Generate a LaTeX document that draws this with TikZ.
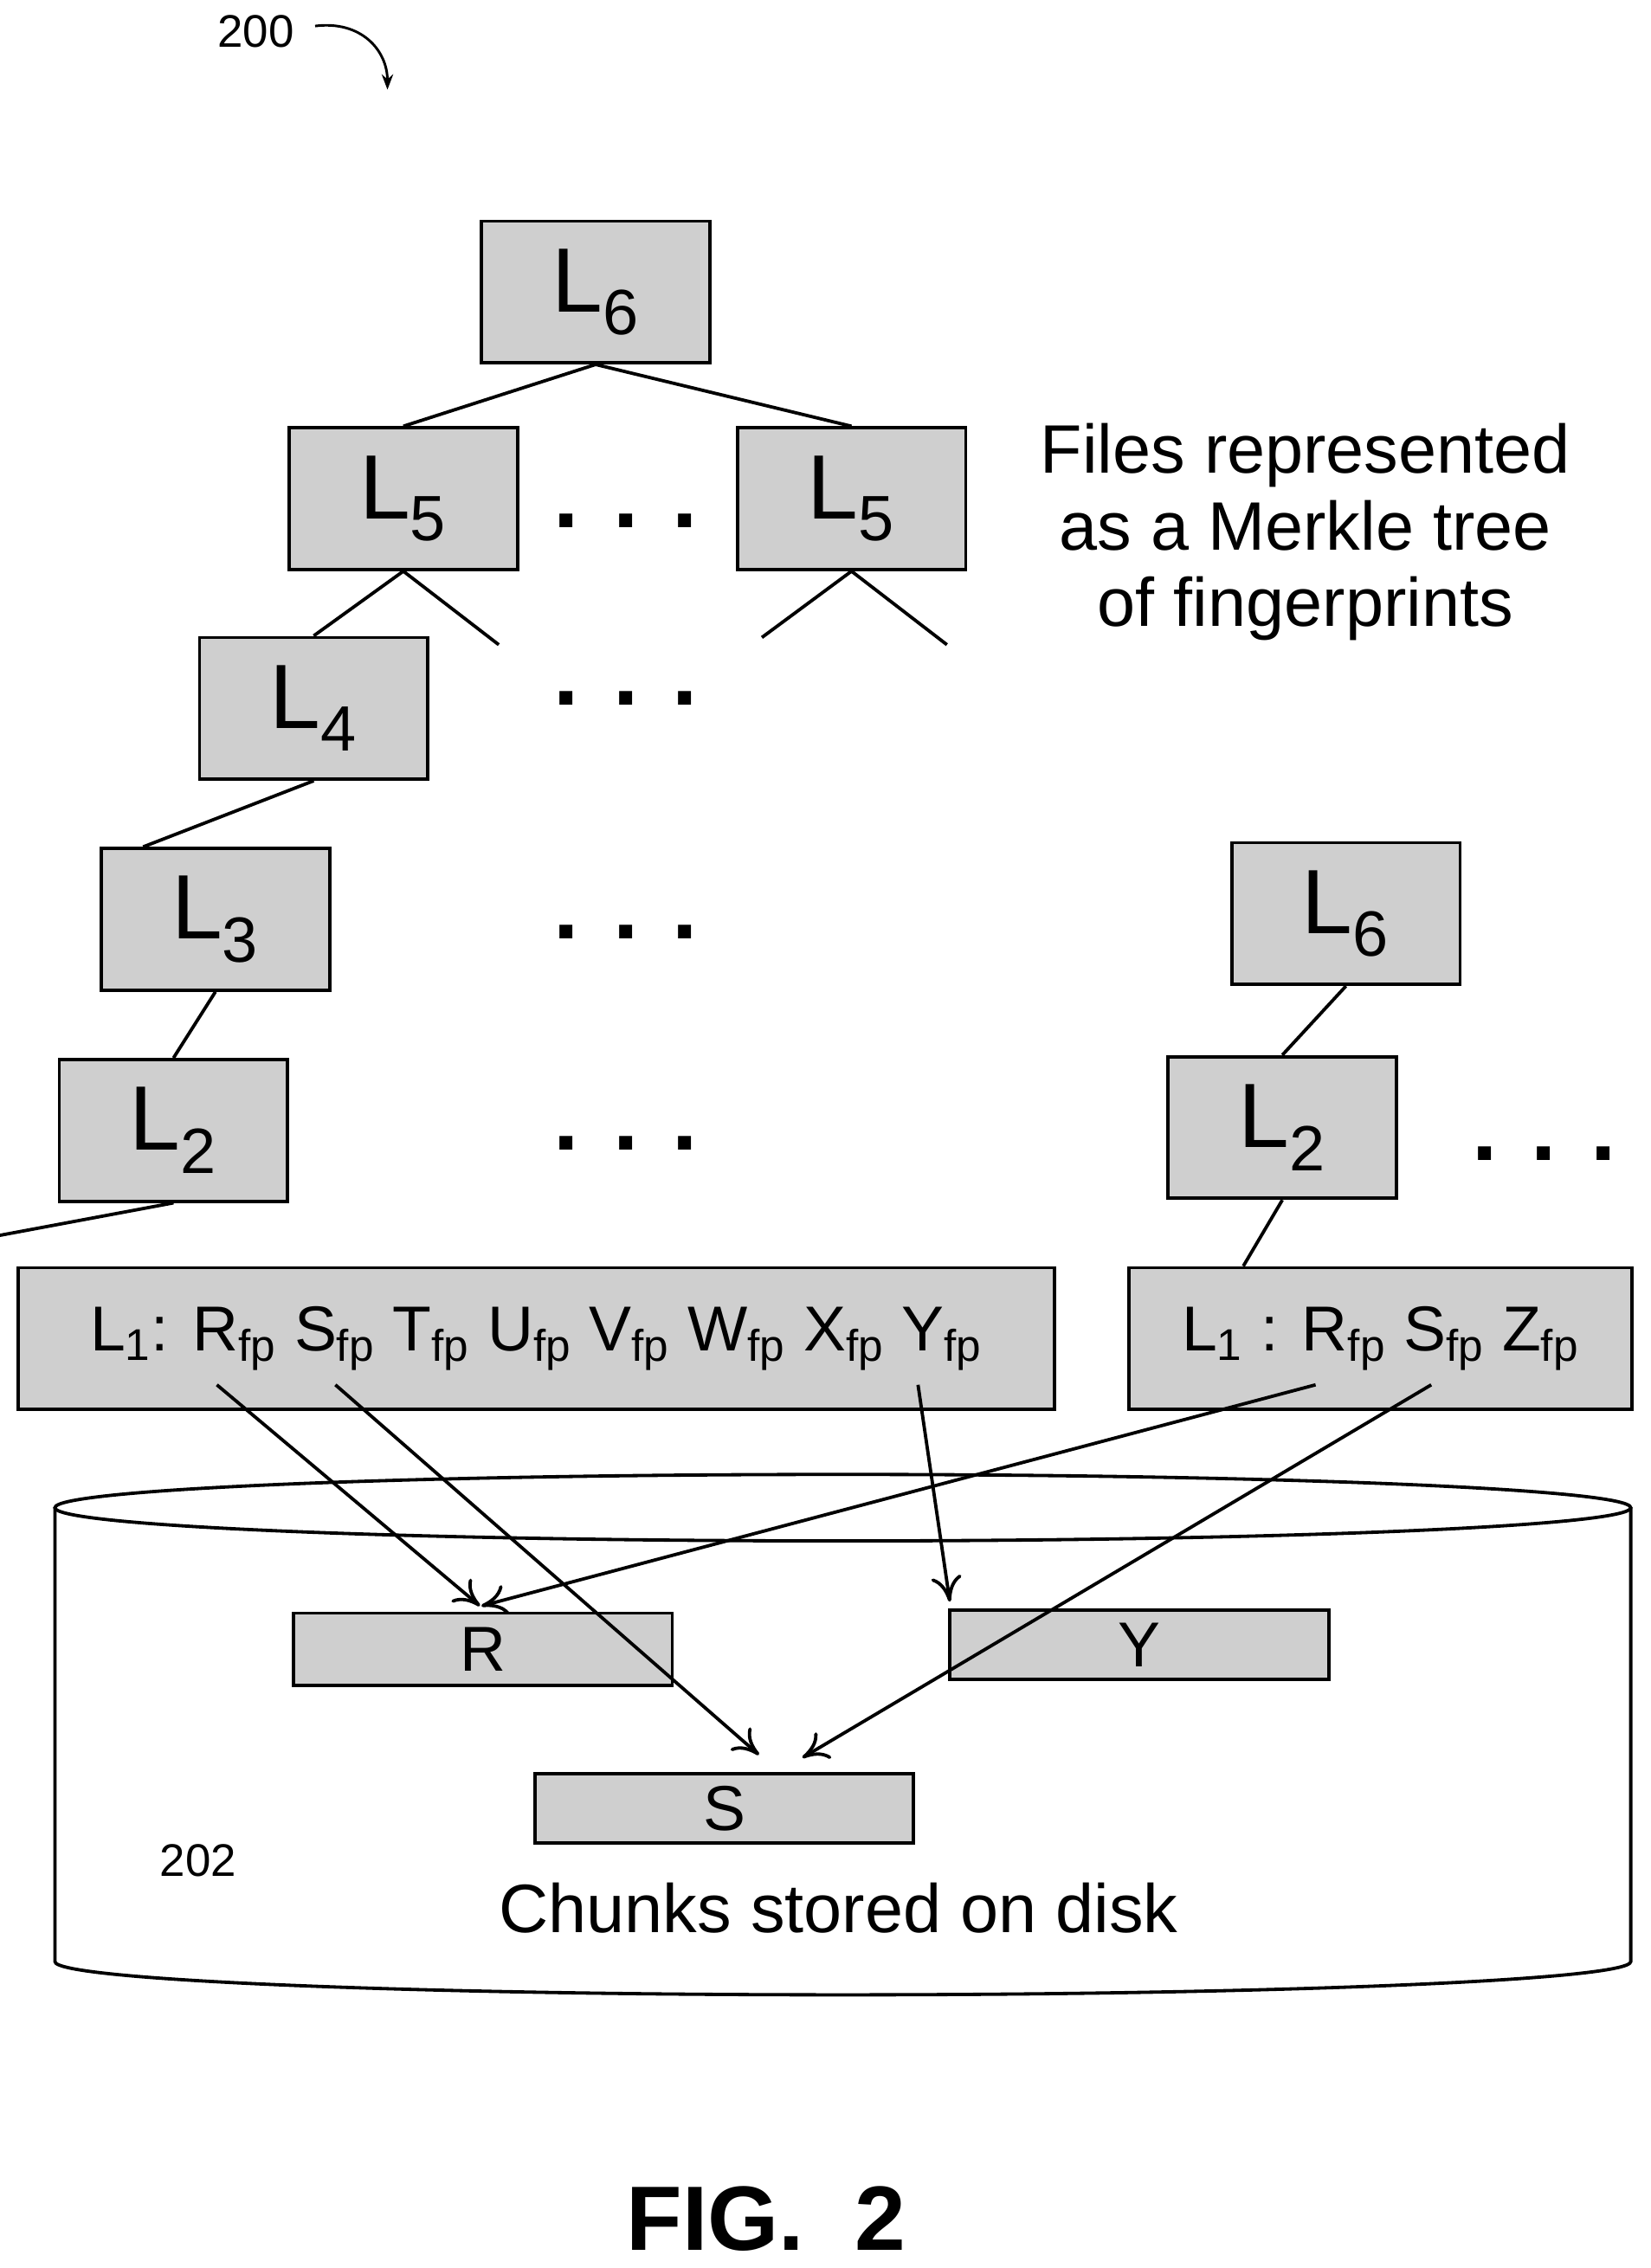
\documentclass[tikz,border=0pt]{standalone}
\usepackage{fontspec}
\setmainfont{Liberation Sans}
\usetikzlibrary{arrows.meta}
\newcommand{\fpx}[1]{#1\textsubscript{fp}}
\begin{document}
\begin{tikzpicture}[x={(0.02cm,0)},y={(0,-0.02cm)},
  box/.style={draw,line width=1.3pt,fill=gray!38,inner sep=0pt},
  ln/.style={line width=1.3pt},
  arr/.style={line width=1.3pt,-{To[length=10pt,width=12pt,line width=1.3pt]}},
  big/.style={font=\fontsize{36}{40}\selectfont},
  mid/.style={font=\fontsize{25}{28}\selectfont},
  txt/.style={font=\fontsize{27}{32}\selectfont}]
\useasboundingbox (0,0) rectangle (1142,1569);
% boxes
\node[box,minimum width=158*0.02cm,minimum height=98*0.02cm,big] (l6) at (412,202) {L\textsubscript{6}};
\node[box,minimum width=158*0.02cm,minimum height=98*0.02cm,big] (l5a) at (279,345) {L\textsubscript{5}};
\node[box,minimum width=158*0.02cm,minimum height=98*0.02cm,big] (l5b) at (589,345) {L\textsubscript{5}};
\node[box,minimum width=158*0.02cm,minimum height=98*0.02cm,big] (l4) at (217,490) {L\textsubscript{4}};
\node[box,minimum width=158*0.02cm,minimum height=98*0.02cm,big] (l3) at (149,636) {L\textsubscript{3}};
\node[box,minimum width=158*0.02cm,minimum height=98*0.02cm,big] (l2) at (120,782) {L\textsubscript{2}};
\node[box,minimum width=158*0.02cm,minimum height=98*0.02cm,big] (r6) at (931,632) {L\textsubscript{6}};
\node[box,minimum width=158*0.02cm,minimum height=98*0.02cm,big] (r2) at (887,780) {L\textsubscript{2}};
\node[box,minimum width=717*0.02cm,minimum height=98*0.02cm,mid] (l1) at (371,926) {L\textsubscript{1}: \fpx{R} \fpx{S} \fpx{T} \fpx{U} \fpx{V} \fpx{W} \fpx{X} \fpx{Y}};
\node[box,minimum width=348*0.02cm,minimum height=98*0.02cm,mid] (r1) at (955,926) {L\textsubscript{1} : \fpx{R} \fpx{S} \fpx{Z}};
% dots
\foreach \p/\y in {d1/372,d2/495,d3/657,d4/803} \node[big] (\p) at (433,\y-12) {\textbf{. . .}};
\node[big] (d5) at (1068,798) {\textbf{. . .}};
% tree lines
\coordinate (c1) at (345,446); \coordinate (c2) at (527,441); \coordinate (c3) at (655,446);
\draw[ln] (l6.south) -- (l5a.north); \draw[ln] (l6.south) -- (l5b.north);
\draw[ln] (l5a.south) -- (l4.north); \draw[ln] (l5a.south) -- (c1);
\draw[ln] (l5b.south) -- (c2); \draw[ln] (l5b.south) -- (c3);
\draw[ln] (l4.south) -- ([xshift=-1cm]l3.north);
\draw[ln] (l3.south) -- (l2.north);
\draw[ln] (l2.south) -- ([xshift=-1.2cm-8.5cm]l1.north);
\draw[ln] (r6.south) -- (r2.north);
\draw[ln] (r2.south) -- ([xshift=-1.9cm]r1.north);
% cylinder
\draw[ln] (38,1043) -- (38,1357) arc[start angle=180,end angle=360,x radius=545*0.02cm,y radius=23*0.02cm] -- (1128,1043);
\draw[ln] (583,1043) ellipse[x radius=545*0.02cm,y radius=23*0.02cm];
\node[box,minimum width=262*0.02cm,minimum height=50*0.02cm,mid] (R) at (334,1141) {R};
\node[box,minimum width=262*0.02cm,minimum height=48*0.02cm,mid] (Y) at (788,1138) {Y};
\node[box,minimum width=262*0.02cm,minimum height=48*0.02cm,mid] (S) at (501,1251) {S};
\node[mid,font=\fontsize{18}{20}\selectfont] (n202) at (137,1287) {202};
\node[txt] (chunks) at (580,1320) {Chunks stored on disk};
% arrows
\coordinate (a1) at (150,958); \coordinate (a2) at (232,958); \coordinate (a3) at (635,958);
\coordinate (a4) at (910,958); \coordinate (a5) at (990,958);
\draw[arr] (a1) -- (332,1111);
\draw[arr] (a2) -- (525,1214);
\draw[arr] (a3) -- (657,1108);
\draw[arr] (a4) -- (333,1111);
\draw[arr] (a5) -- (555,1216);
% text
\node[txt,align=center] (files) at (903,368) {Files represented\\[-2pt]as a Merkle tree\\[-2pt]of fingerprints};
\node[font=\fontsize{36}{40}\selectfont\bfseries] (fig) at (530,1535) {FIG.\ \ 2};
\node[font=\fontsize{18}{20}\selectfont] (n200) at (177,22) {200};
\coordinate (t200) at (268,62);
\draw[line width=1pt,-{Stealth[length=6pt]}] (218,18) .. controls (250,14) and (268,35) .. (t200);
\end{tikzpicture}
\end{document}
